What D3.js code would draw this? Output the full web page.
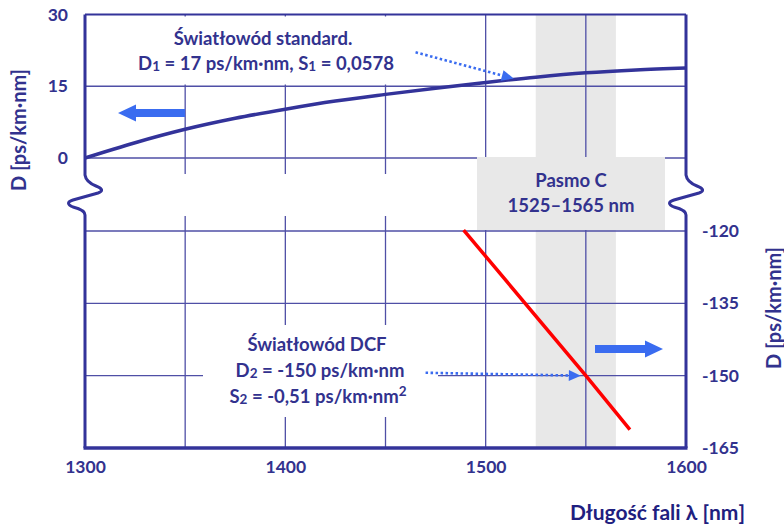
<!DOCTYPE html>
<html>
<head>
<meta charset="utf-8">
<script src="https://cdn.jsdelivr.net/npm/d3@7"></script>
<style>
  html, body { margin: 0; padding: 0; background: #fff; }
  svg { display: block; }
  text { font-family: Lato, "Open Sans", "DejaVu Sans", sans-serif; font-weight: 700; }
</style>
</head>
<body>
<svg id="chart" width="784" height="525"></svg>
<script>
// ---- data ----
const wavelengthSMF = [1300, 1325, 1350, 1375, 1400, 1425, 1450, 1475, 1500, 1525, 1550, 1575, 1600];
const dispersionSMF = [0, 3.2, 6.0, 8.3, 10.2, 11.9, 13.3, 14.6, 15.8, 16.9, 17.8, 18.4, 18.8];
const wavelengthDCF = [1489, 1550, 1572];
const dispersionDCF = [-119.8, -150, -161.2];
const cBand = [1525, 1565];
const xTickValues = [1300, 1400, 1500, 1600];
const xGridValues = [1350, 1400, 1450, 1500, 1550];
const leftTickValues = [0, 15, 30];
const rightTickValues = [-120, -135, -150, -165];
const leftGridValues = [15, 0];
const rightGridValues = [-120, -135, -150];

// ---- layout ----
const plotL = 85, plotR = 686;
const topY30 = 14.5, topY0 = 158;     // upper panel (standard fibre)
const botY120 = 231, botY165 = 448;   // lower panel (DCF)
const breakTop = 175, breakBot = 214; // axis break
const navy = "#33339a";
const grid = "#4f4fa6";
const labelCol = "#32328e";
const arrowBlue = "#3a6cf0";

const svg = d3.select("#chart");

const x = d3.scaleLinear().domain([1300, 1600]).range([plotL, plotR]);
const yTop = d3.scaleLinear().domain([0, 30]).range([topY0, topY30]);
const yBot = d3.scaleLinear().domain([-165, -120]).range([botY165, botY120]);

// C band shading
svg.append("rect")
  .attr("x", x(cBand[0])).attr("width", x(cBand[1]) - x(cBand[0]))
  .attr("y", topY30).attr("height", botY165 - topY30)
  .attr("fill", "#e8e8e8");

// vertical grid (interrupted at the axis break)
const gGrid = svg.append("g").attr("stroke", grid).attr("stroke-width", 1.3);
gGrid.selectAll("line.vt").data(xGridValues).join("line")
  .attr("x1", d => x(d)).attr("x2", d => x(d))
  .attr("y1", topY30).attr("y2", breakTop - 1);
gGrid.selectAll("line.vb").data(xGridValues).join("line")
  .attr("x1", d => x(d)).attr("x2", d => x(d))
  .attr("y1", breakBot + 2).attr("y2", botY165);
// horizontal grid
gGrid.selectAll("line.ht").data(leftGridValues).join("line")
  .attr("x1", plotL).attr("x2", plotR)
  .attr("y1", d => yTop(d)).attr("y2", d => yTop(d));
gGrid.selectAll("line.hb").data(rightGridValues).join("line")
  .attr("x1", plotL).attr("x2", plotR)
  .attr("y1", d => yBot(d)).attr("y2", d => yBot(d));

// white panels behind the fibre descriptions
svg.append("rect").attr("x", plotL + 2).attr("y", topY30 + 2)
  .attr("width", 318).attr("height", 68).attr("fill", "#fff");
svg.append("rect").attr("x", 203).attr("y", 325)
  .attr("width", 235).attr("height", 92).attr("fill", "#fff");

// C band label box
svg.append("rect").attr("x", 477).attr("y", 157)
  .attr("width", 188).attr("height", 73).attr("fill", "#e8e8e8");
svg.append("text").attr("x", 571).attr("y", 180)
  .attr("text-anchor", "middle").attr("dominant-baseline", "central")
  .attr("font-size", 18.5).attr("fill", labelCol).text("Pasmo C");
svg.append("text").attr("x", 571).attr("y", 205)
  .attr("text-anchor", "middle").attr("dominant-baseline", "central")
  .attr("font-size", 18.5).attr("fill", labelCol)
  .text(`${cBand[0]}–${cBand[1]} nm`);

// dispersion curves
const smf = wavelengthSMF.map((w, i) => [w, dispersionSMF[i]]);
const dcf = wavelengthDCF.map((w, i) => [w, dispersionDCF[i]]);

svg.append("path").datum(smf)
  .attr("fill", "none").attr("stroke", navy).attr("stroke-width", 3.5)
  .attr("d", d3.line().x(d => x(d[0])).y(d => yTop(d[1])).curve(d3.curveMonotoneX));
svg.append("path").datum(dcf)
  .attr("fill", "none").attr("stroke", "#ff0000").attr("stroke-width", 3.5)
  .attr("d", d3.line().x(d => x(d[0])).y(d => yBot(d[1])));

// frame: top border, bottom axis, broken side axes
svg.append("line").attr("x1", plotL).attr("x2", plotR)
  .attr("y1", topY30).attr("y2", topY30)
  .attr("stroke", navy).attr("stroke-width", 2.2);
svg.append("line").attr("x1", plotL - 1.5).attr("x2", plotR + 1.5)
  .attr("y1", botY165).attr("y2", botY165)
  .attr("stroke", navy).attr("stroke-width", 3.5);

function brokenAxis(ax) {
  const p = d3.path();
  p.moveTo(ax, topY30);
  p.lineTo(ax, breakTop);
  p.quadraticCurveTo(ax + 1, breakTop + 7, ax + 11, breakTop + 11);
  p.quadraticCurveTo(ax + 21, breakTop + 15, ax + 13, breakTop + 18);
  p.lineTo(ax - 12, breakTop + 25);
  p.quadraticCurveTo(ax - 21, breakTop + 28, ax - 12, breakTop + 32);
  p.quadraticCurveTo(ax, breakTop + 35, ax, breakBot + 1);
  p.moveTo(ax, breakBot + 1);
  p.lineTo(ax, botY165);
  return p.toString();
}
svg.append("path").attr("d", brokenAxis(plotL))
  .attr("fill", "none").attr("stroke", navy).attr("stroke-width", 3);
svg.append("path").attr("d", brokenAxis(plotR))
  .attr("fill", "none").attr("stroke", navy).attr("stroke-width", 3);

// axes (labels only; lines drawn above)
const plainInt = d => String(d);
function styleAxis(g) {
  g.select(".domain").remove();
  g.selectAll(".tick line").remove();
  g.selectAll("text")
    .attr("font-family", 'Lato, "Open Sans", sans-serif')
    .attr("font-weight", 700).attr("font-size", 17.5).attr("fill", labelCol);
}
svg.append("g").attr("transform", `translate(${plotL},0)`)
  .call(d3.axisLeft(yTop).tickValues(leftTickValues).tickSize(0).tickPadding(17).tickFormat(plainInt))
  .call(styleAxis);
svg.append("g").attr("transform", `translate(${plotR},0)`)
  .call(d3.axisRight(yBot).tickValues(rightTickValues).tickSize(0).tickPadding(16).tickFormat(plainInt))
  .call(styleAxis);
svg.append("g").attr("transform", `translate(0,${botY165})`)
  .call(d3.axisBottom(x).tickValues(xTickValues).tickSize(0).tickPadding(13).tickFormat(plainInt))
  .call(styleAxis);

// axis titles
svg.append("text").attr("transform", "translate(18,130) rotate(-90)")
  .attr("text-anchor", "middle").attr("dominant-baseline", "central")
  .attr("font-size", 20).attr("fill", labelCol).text("D [ps/km·nm]");
svg.append("text").attr("transform", "translate(773,308) rotate(-90)")
  .attr("text-anchor", "middle").attr("dominant-baseline", "central")
  .attr("font-size", 20).attr("fill", labelCol).text("D [ps/km·nm]");
svg.append("text").attr("x", 745).attr("y", 511)
  .attr("text-anchor", "end").attr("dominant-baseline", "central")
  .attr("font-size", 21).attr("fill", "#1f1f80").text("Długość fali λ [nm]");

// text line helper with subscript / superscript parts
function richLine(cx, cy, parts) {
  const t = svg.append("text").attr("x", cx).attr("y", cy)
    .attr("text-anchor", "middle").attr("dominant-baseline", "central")
    .attr("font-size", 18.5).attr("fill", labelCol);
  let shift = 0;
  parts.forEach(p => {
    const s = t.append("tspan").text(p.t);
    const target = p.sub ? 3 : (p.sup ? -5 : 0);
    if (target !== shift) { s.attr("dy", target - shift); shift = target; }
    if (p.sub || p.sup) s.attr("font-size", 13.5);
  });
  return t;
}

richLine(263, 38, [{ t: "Światłowód standard." }]);
richLine(266, 63, [{ t: "D" }, { t: "1", sub: true }, { t: " = 17 ps/km·nm, S" }, { t: "1", sub: true }, { t: " = 0,0578" }]);

richLine(317, 344, [{ t: "Światłowód DCF" }]);
richLine(320, 370, [{ t: "D" }, { t: "2", sub: true }, { t: " = -150 ps/km·nm" }]);
richLine(318, 396, [{ t: "S" }, { t: "2", sub: true }, { t: " = -0,51 ps/km·nm" }, { t: "2", sup: true }]);

// dotted pointer arrows
function pointer(x0, y0, x1, y1) {
  const dx = x1 - x0, dy = y1 - y0, len = Math.hypot(dx, dy);
  const ux = dx / len, uy = dy / len;
  const headL = 12, headW = 5.5;
  const bx = x1 - ux * headL, by = y1 - uy * headL;
  svg.append("line").attr("x1", x0).attr("y1", y0).attr("x2", bx).attr("y2", by)
    .attr("stroke", arrowBlue).attr("stroke-width", 2.6).attr("stroke-dasharray", "2.5,2.5");
  svg.append("path")
    .attr("d", `M${x1},${y1}L${bx - uy * headW},${by + ux * headW}L${bx + uy * headW},${by - ux * headW}Z`)
    .attr("fill", arrowBlue);
}
pointer(x(1465), yTop(22.1), x(1514), yTop(16.6));
pointer(x(1470), yBot(-149.4), x(1547.5), yBot(-150));

// block arrows showing which axis each curve uses
function blockArrow(tailX, tipX, cy) {
  const dir = Math.sign(tipX - tailX);
  const headL = 18, body = 4, head = 8.5;
  const hb = tipX - dir * headL;
  svg.append("path")
    .attr("d", `M${tailX},${cy - body}L${hb},${cy - body}L${hb},${cy - head}L${tipX},${cy}` +
               `L${hb},${cy + head}L${hb},${cy + body}L${tailX},${cy + body}Z`)
    .attr("fill", arrowBlue);
}
blockArrow(185, 118, 113);
blockArrow(595, 663, 349);
</script>
</body>
</html>
